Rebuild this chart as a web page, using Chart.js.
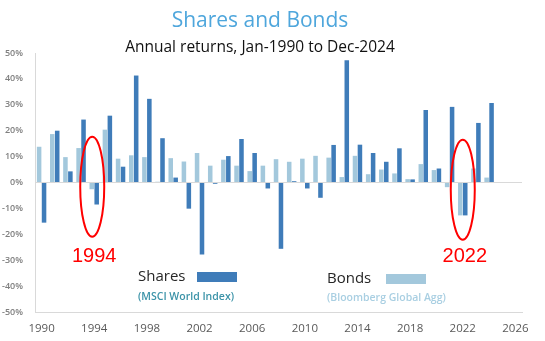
<!DOCTYPE html>
<html>
<head>
<meta charset="utf-8">
<script src="https://cdn.jsdelivr.net/npm/chart.js@4.4.1/dist/chart.umd.min.js"></script>
<style>
  html, body { margin: 0; padding: 0; background: #ffffff; }
  #wrap { position: relative; width: 545px; height: 341px; }
</style>
</head>
<body>
<div id="wrap"><canvas id="c" width="545" height="341"></canvas></div>
<script>
// Categories (years); 2025 and 2026 are empty slots on the axis
const years = ['1990','1991','1992','1993','1994','1995','1996','1997','1998','1999',
               '2000','2001','2002','2003','2004','2005','2006','2007','2008','2009',
               '2010','2011','2012','2013','2014','2015','2016','2017','2018','2019',
               '2020','2021','2022','2023','2024','2025','2026'];

// Annual returns (%)
const bonds  = [13.8, 18.7, 9.8, 13.3, -2.6, 20.4, 9.2, 10.5, 9.8, 0.3,
                9.4, 8.1, 11.4, 6.5, 8.8, 6.5, 4.4, 6.5, 9.0, 8.0,
                9.2, 10.3, 9.6, 2.1, 10.3, 3.2, 5.0, 3.5, 1.3, 7.1,
                4.8, -1.8, -12.7, 5.4, 1.9, null, null];
const shares = [-15.5, 20.0, 4.3, 24.3, -8.5, 25.8, 6.1, 41.3, 32.3, 17.1,
                1.9, -10.1, -27.8, -0.5, 10.2, 16.8, 11.4, -2.3, -25.6, 0.5,
                -2.3, -5.9, 14.5, 47.2, 14.6, 11.4, 8.0, 13.2, 1.2, 28.0,
                5.4, 29.2, -12.7, 23.0, 30.7, null, null];

// Tick labels
const xTickYears = ['1990','1994','1998','2002','2006','2010','2014','2018','2022','2026'];
const yTicks = [50, 40, 30, 20, 10, 0, -10, -20, -30, -40, -50];

const highlightYears = ['1994', '2022'];

const SHARE_COLOR = '#3f7cb9';
const BOND_COLOR  = '#a3c8dc';

const overlay = {
  id: 'overlay',
  afterDraw(chart) {
    const ctx = chart.ctx;
    const xs = chart.scales.x;
    ctx.save();
    // Titles
    ctx.textAlign = 'center';
    ctx.textBaseline = 'middle';
    ctx.fillStyle = '#4ea6dc';
    ctx.font = '21px "Open Sans"';
    ctx.fillText('Shares and Bonds', 260, 21);
    ctx.fillStyle = '#111111';
    ctx.font = '15.5px "Open Sans"';
    ctx.fillText('Annual returns, Jan-1990 to Dec-2024', 260, 48);

    // Highlight ellipses and year labels
    highlightYears.forEach((yr, k) => {
      const cx = xs.getPixelForValue(years.indexOf(yr)) + (k === 0 ? -2 : 0);
      const cy = k === 0 ? 186.7 : 189.7;
      ctx.beginPath();
      ctx.ellipse(cx, cy, 12, 50, 0, 0, Math.PI * 2);
      ctx.strokeStyle = '#ff0000';
      ctx.lineWidth = 2;
      ctx.stroke();
      ctx.fillStyle = '#ff0000';
      ctx.font = '20px "Liberation Sans"';
      ctx.textAlign = 'center';
      ctx.fillText(yr, cx + 2, 256);
    });

    // Custom legend
    ctx.textAlign = 'left';
    ctx.fillStyle = '#262626';
    ctx.font = '15px "Open Sans"';
    ctx.fillText('Shares', 138, 277);
    ctx.fillStyle = SHARE_COLOR;
    ctx.fillRect(197, 272, 40, 10);
    ctx.fillStyle = '#3b93a8';
    ctx.font = '600 10.5px "Open Sans"';
    ctx.fillText('(MSCI World Index)', 138, 297);

    ctx.fillStyle = '#262626';
    ctx.font = '15px "Open Sans"';
    ctx.fillText('Bonds', 327, 279);
    ctx.fillStyle = BOND_COLOR;
    ctx.fillRect(386, 274, 40, 10);
    ctx.fillStyle = '#a9cfe2';
    ctx.font = '600 10.5px "Open Sans"';
    ctx.fillText('(Bloomberg Global Agg)', 327, 298);
    ctx.restore();
  }
};

new Chart(document.getElementById('c'), {
  type: 'bar',
  data: {
    labels: years,
    datasets: [
      { label: 'Bonds',  data: bonds,  backgroundColor: BOND_COLOR,  borderWidth: 0,
        categoryPercentage: 0.75, barPercentage: 0.92 },
      { label: 'Shares', data: shares, backgroundColor: SHARE_COLOR, borderWidth: 0,
        categoryPercentage: 0.75, barPercentage: 0.92 }
    ]
  },
  options: {
    responsive: false,
    animation: false,
    devicePixelRatio: 1,
    layout: { padding: { top: 53, right: 23, left: 0, bottom: 0 } },
    plugins: {
      legend: { display: false },
      title: { display: false },
      tooltip: { enabled: false }
    },
    scales: {
      x: {
        grid: { display: false, drawTicks: false },
        border: { display: true, color: '#d9d9d9', width: 1 },
        afterFit(scale) { scale.height = 29; },
        ticks: {
          autoSkip: false,
          maxRotation: 0,
          padding: 10,
          color: '#595959',
          font: { family: '"Open Sans"', size: 11.5 },
          callback(value) {
            const lab = this.getLabelForValue(value);
            return xTickYears.includes(lab) ? lab : '';
          }
        }
      },
      y: {
        min: -50, max: 50,
        afterFit(scale) { scale.width = 35; },
        afterBuildTicks(scale) { scale.ticks = yTicks.map(v => ({ value: v })); },
        border: { display: true, color: '#d9d9d9', width: 1 },
        grid: {
          drawTicks: false,
          color: (c) => (c.tick && c.tick.value === 0) ? '#d9d9d9' : 'rgba(0,0,0,0)'
        },
        ticks: {
          padding: 12,
          color: '#7f7f7f',
          font: { family: '"Open Sans"', size: 9, weight: '600' },
          callback: (v) => v + '%'
        }
      }
    }
  },
  plugins: [overlay]
});
</script>
</body>
</html>
